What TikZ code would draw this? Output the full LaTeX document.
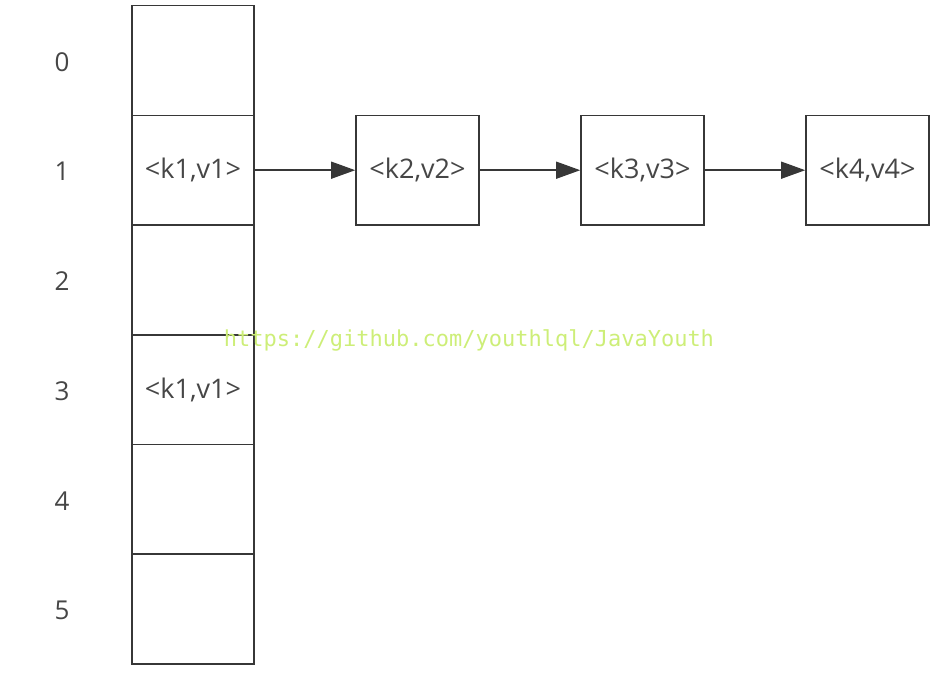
\documentclass[tikz,border=0pt]{standalone}
\usepackage{fontspec}
\setmainfont{Open Sans}
\setmonofont{DejaVu Sans Mono}
\usepackage{xcolor}
\usepackage{tikz}
\usetikzlibrary{arrows.meta}
\definecolor{linegray}{RGB}{55,55,55}
\definecolor{textgray}{RGB}{70,70,70}
\definecolor{markgreen}{RGB}{205,238,120}

\begin{document}
\begin{tikzpicture}[x=1pt,y=-1pt,>={Triangle[length=24pt,width=17pt]},
		cell/.style={draw=linegray,line width=1.6pt,minimum width=122pt,minimum height=109.7pt,inner sep=0pt,text=textgray,font=\fontsize{27}{30}\selectfont},
		idx/.style={text=textgray,font=\fontsize{26}{30}\selectfont}]
			\useasboundingbox (0,0) rectangle (951,674);

			% The table
			\foreach \i/\lab in {0/,1/{<k1,v1>},2/,3/{<k1,v1>},4/,5/} {
				\node[cell] (c\i) at (193,60.5+109.7*\i) {\lab};
				\node[idx] (n\i) at (62,62+109.7*\i) {\i};
			}

			% The chain
			\node[cell,minimum width=123pt] (k2) at (417.5,170.2) {<k2,v2>};
			\node[cell,minimum width=123pt] (k3) at (642.5,170.2) {<k3,v3>};
			\node[cell,minimum width=123pt] (k4) at (867.5,170.2) {<k4,v4>};

			\draw[->,linegray,line width=1.4pt] (c1) -- (k2);
			\draw[->,linegray,line width=1.4pt] (k2) -- (k3);
			\draw[->,linegray,line width=1.4pt] (k3) -- (k4);

			% The mark
			\node[text=markgreen,font=\ttfamily\fontsize{22}{24}\selectfont] (url) at (469,340) {https://github.com/youthlql/JavaYouth};
		\end{tikzpicture}
\end{document}
